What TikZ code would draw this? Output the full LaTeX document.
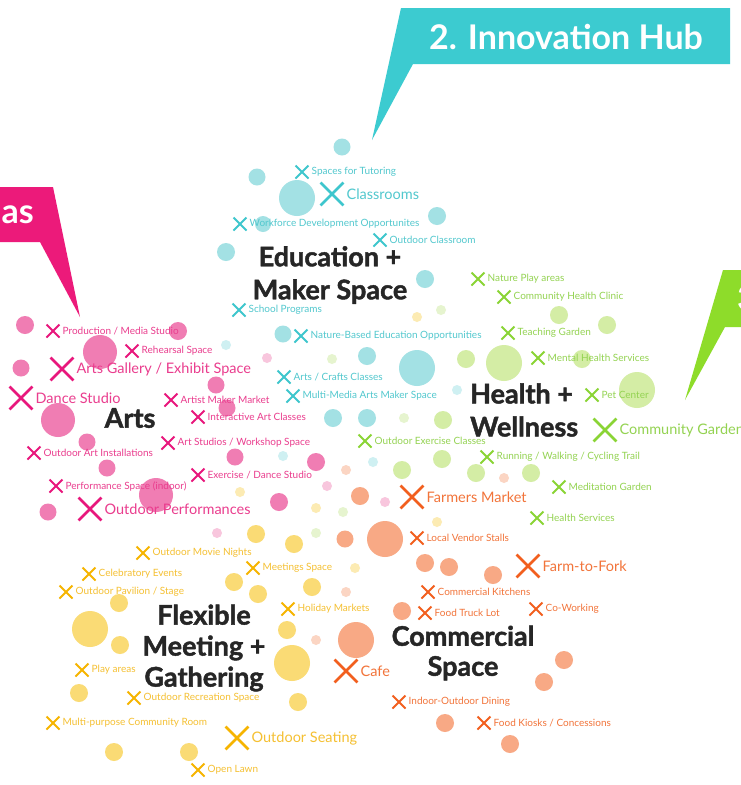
\documentclass[tikz,border=0pt]{standalone}
\usepackage{fontspec}
\setmainfont{Lato}
\newfontfamily\heavyfont{Lato}[BoldFeatures={FakeBold=1.6}]
\usetikzlibrary{positioning,shapes.misc}
\definecolor{ink}{HTML}{262626}
\definecolor{edu}{HTML}{3EC6CD}
\definecolor{eduT}{HTML}{52C8CE}
\definecolor{eduC}{HTML}{A3E1E4}
\definecolor{eduL}{HTML}{CFF0F2}
\definecolor{art}{HTML}{E8177C}
\definecolor{artT}{HTML}{EA3D8E}
\definecolor{artC}{HTML}{F07DB3}
\definecolor{artL}{HTML}{F8C6DD}
\definecolor{hw}{HTML}{8AD435}
\definecolor{hwT}{HTML}{94D352}
\definecolor{hwC}{HTML}{D4EDA5}
\definecolor{hwL}{HTML}{E6F4CF}
\definecolor{com}{HTML}{F25F1E}
\definecolor{comT}{HTML}{F2743A}
\definecolor{comC}{HTML}{F8A985}
\definecolor{comL}{HTML}{FBD5C3}
\definecolor{mtg}{HTML}{F6B400}
\definecolor{mtgT}{HTML}{F5C032}
\definecolor{mtgC}{HTML}{FADB75}
\definecolor{mtgL}{HTML}{FCEBB3}
\definecolor{hubB}{HTML}{3CCBD0}
\definecolor{artB}{HTML}{EC1A7A}
\definecolor{hwB}{HTML}{8EDC2A}
\tikzset{
  xs/.style={cross out, draw=#1, line width=2pt, minimum size=11pt, inner sep=0pt},
  xl/.style={cross out, draw=#1, line width=2.8pt, minimum size=20pt, inner sep=0pt},
  lab/.style={text=#1T, inner sep=0pt, font=\fontsize{10}{12}\selectfont},
  labl/.style={text=#1T, inner sep=0pt, font=\fontsize{14.5}{17}\selectfont},
  ttl/.style={text=ink, align=center, inner sep=0pt, font=\heavyfont\bfseries\fontsize{27}{33}\selectfont},
  callt/.style={text=white, inner sep=0pt, font=\bfseries\fontsize{34}{40}\selectfont},
}

\begin{document}
\begin{tikzpicture}[x=1pt, y=-1pt, node distance=3pt]
  \useasboundingbox (0,0) rectangle (741,785);
  \fill[white] (0,0) rectangle (741,785);
  % callouts
  \fill[hubB] (401,8) -- (730,8) -- (730,64) -- (413,64) -- (372,140) -- cycle;
  \node[callt] (hub) at (566,37) {2. Innovation Hub};
  \fill[artB] (-5,187) -- (53,187) -- (80,317) -- (40,242) -- (-5,242) -- cycle;
  \node[callt, anchor=east] (areas) at (34,215) {as};
  \fill[hwB] (723,270) -- (750,270) -- (750,327) -- (725,327) -- (685,400) -- cycle;
  \node[callt, anchor=west] (three) at (737,298) {3.};
  % circles
  \foreach \x/\y/\r in {342/147/8.5, 257/177/8.5, 297/198/18, 437/216/9, 263/224/8, 226/252/9,
    425/279/9, 283/334/8.5, 367/356/9, 417/368/18, 333/418/9, 367/418/9}
    \fill[eduC] (\x,\y) circle (\r);
  \foreach \x/\y in {226/345, 457/390, 283/456, 373/462}
    \fill[eduL] (\x,\y) circle (5);
  \foreach \x/\y/\r in {25/325/9, 178/331/9, 100/352/17, 21/368/8.5, 216/385/8.5, 227/408/8.5,
    58/420/17, 87/442/8.5, 235/457/8.5, 107/468/8.5, 316/462/9, 156/495/17, 48/512/8.5, 279/502/9}
    \fill[artC] (\x,\y) circle (\r);
  \foreach \x/\y in {267/358, 327/486, 385/502, 217/533}
    \fill[artL] (\x,\y) circle (5);
  \foreach \x/\y/\r in {559/315/9, 607/325/9, 466/359/9, 504/363/18, 582/359/9, 637/390/18,
    443/420/9, 442/459/9, 402/470/9, 476/473/9, 531/473/9}
    \fill[hwC] (\x,\y) circle (\r);
  \foreach \x/\y in {441/310, 332/359, 404/418, 343/512, 316/533}
    \fill[hwL] (\x,\y) circle (5);
  \foreach \x/\y/\r in {360/496/9, 385/539/18, 345/539/8.5, 425/563/9, 449/567/9, 493/575/9,
    402/611/9, 356/640/18, 564/660/9, 544/682/9, 445/723/9, 510/744/9}
    \fill[comC] (\x,\y) circle (\r);
  \foreach \x/\y in {346/470, 504/478, 346/592, 316/640}
    \fill[comL] (\x,\y) circle (5);
  \foreach \x/\y/\r in {256/534/9, 294/544/9, 234/582/9, 258/594/9, 312/587/9, 119/603/9,
    90/629/18, 120/645/9, 287/630/9, 292/663/18, 79/693/9, 298/702/9, 114/752/9, 189/752/9}
    \fill[mtgC] (\x,\y) circle (\r);
  \foreach \x/\y in {240/492, 437/522, 316/508, 355/568, 417/317}
    \fill[mtgL] (\x,\y) circle (5);
  % education + maker space
  \node[xs=edu] (tut) at (302,172) {}; \node[lab=edu, right=of tut] (tutL) {Spaces for Tutoring};
  \node[xl=edu] (cls) at (332,194) {}; \node[labl=edu, right=of cls] (clsL) {Classrooms};
  \node[xs=edu] (wf) at (240,224) {}; \node[lab=edu, right=of wf] (wfL) {Workforce Development Opportunites};
  \node[xs=edu] (ocl) at (380,240) {}; \node[lab=edu, right=of ocl] (oclL) {Outdoor Classroom};
  \node[xs=edu] (sch) at (239,310) {}; \node[lab=edu, right=of sch] (schL) {School Programs};
  \node[xs=edu] (nbe) at (301,336) {}; \node[lab=edu, right=of nbe] (nbeL) {Nature-Based Education Opportunities};
  \node[xs=edu] (crf) at (284,377) {}; \node[lab=edu, right=of crf] (crfL) {Arts / Crafts Classes};
  \node[xs=edu] (mma) at (293,396) {}; \node[lab=edu, right=of mma] (mmaL) {Multi-Media Arts Maker Space};
  % arts
  \node[xs=art] (prod) at (53,331) {}; \node[lab=art, right=of prod] (prodL) {Production / Media Studio};
  \node[xs=art] (reh) at (132,351) {}; \node[lab=art, right=of reh] (rehL) {Rehearsal Space};
  \node[xl=art] (gal) at (62,369) {}; \node[labl=art, right=of gal] (galL) {Arts Gallery / Exhibit Space};
  \node[xl=art] (dan) at (21,398) {}; \node[labl=art, right=of dan] (danL) {Dance Studio};
  \node[xs=art] (amm) at (171,400) {}; \node[lab=art, right=of amm] (ammL) {Artist Maker Market};
  \node[xs=art] (iac) at (198,417) {}; \node[lab=art, right=of iac] (iacL) {Interactive Art Classes};
  \node[xs=art] (stu) at (168,443) {}; \node[lab=art, right=of stu] (stuL) {Art Studios / Workshop Space};
  \node[xs=art] (oai) at (34,453) {}; \node[lab=art, right=of oai] (oaiL) {Outdoor Art Installations};
  \node[xs=art] (exd) at (198,475) {}; \node[lab=art, right=of exd] (exdL) {Exercise / Dance Studio};
  \node[xs=art] (perf) at (56,486) {}; \node[lab=art, right=of perf] (perfL) {Performance Space (indoor)};
  \node[xl=art] (opf) at (90,509) {}; \node[labl=art, right=of opf] (opfL) {Outdoor Performances};
  % health + wellness
  \node[xs=hw] (npa) at (478,279) {}; \node[lab=hw, right=of npa] (npaL) {Nature Play areas};
  \node[xs=hw] (chc) at (504,297) {}; \node[lab=hw, right=of chc] (chcL) {Community Health Clinic};
  \node[xs=hw] (tg) at (508,333) {}; \node[lab=hw, right=of tg] (tgL) {Teaching Garden};
  \node[xs=hw] (mhs) at (538,358) {}; \node[lab=hw, right=of mhs] (mhsL) {Mental Health Services};
  \node[xs=hw] (pet) at (592,395) {}; \node[lab=hw, right=of pet] (petL) {Pet Center};
  \node[xl=hw] (cg) at (605,430) {}; \node[labl=hw, right=of cg] (cgL) {Community Garden};
  \node[xs=hw] (oec) at (365,441) {}; \node[lab=hw, right=of oec] (oecL) {Outdoor Exercise Classes};
  \node[xs=hw] (run) at (487,457) {}; \node[lab=hw, right=of run] (runL) {Running / Walking / Cycling Trail};
  \node[xs=hw] (med) at (559,487) {}; \node[lab=hw, right=of med] (medL) {Meditation Garden};
  \node[xs=hw] (hs) at (537,518) {}; \node[lab=hw, right=of hs] (hsL) {Health Services};
  % commercial space
  \node[xl=com] (fm) at (412,497) {}; \node[labl=com, right=of fm] (fmL) {Farmers Market};
  \node[xs=com] (lvs) at (417,538) {}; \node[lab=com, right=of lvs] (lvsL) {Local Vendor Stalls};
  \node[xl=com] (ftf) at (528,566) {}; \node[labl=com, right=of ftf] (ftfL) {Farm-to-Fork};
  \node[xs=com] (ck) at (428,592) {}; \node[lab=com, right=of ck] (ckL) {Commercial Kitchens};
  \node[xs=com] (ftl) at (425,613) {}; \node[lab=com, right=of ftl] (ftlL) {Food Truck Lot};
  \node[xs=com] (cw) at (536,609) {}; \node[lab=com, right=of cw] (cwL) {Co-Working};
  \node[xl=com] (cafe) at (346,671) {}; \node[labl=com, right=of cafe] (cafeL) {Cafe};
  \node[xs=com] (iod) at (399,702) {}; \node[lab=com, right=of iod] (iodL) {Indoor-Outdoor Dining};
  \node[xs=com] (fk) at (484,723) {}; \node[lab=com, right=of fk] (fkL) {Food Kiosks / Concessions};
  % flexible meeting + gathering
  \node[xs=mtg] (omn) at (143,553) {}; \node[lab=mtg, right=of omn] (omnL) {Outdoor Movie Nights};
  \node[xs=mtg] (ms) at (253,568) {}; \node[lab=mtg, right=of ms] (msL) {Meetings Space};
  \node[xs=mtg] (ce) at (89,574) {}; \node[lab=mtg, right=of ce] (ceL) {Celebratory Events};
  \node[xs=mtg] (ops) at (66,592) {}; \node[lab=mtg, right=of ops] (opsL) {Outdoor Pavilion / Stage};
  \node[xs=mtg] (hm) at (288,609) {}; \node[lab=mtg, right=of hm] (hmL) {Holiday Markets};
  \node[xs=mtg] (pa) at (82,670) {}; \node[lab=mtg, right=of pa] (paL) {Play areas};
  \node[xs=mtg] (ors) at (134,698) {}; \node[lab=mtg, right=of ors] (orsL) {Outdoor Recreation Space};
  \node[xs=mtg] (mcr) at (53,723) {}; \node[lab=mtg, right=of mcr] (mcrL) {Multi-purpose Community Room};
  \node[xl=mtg] (os) at (237,738) {}; \node[labl=mtg, right=of os] (osL) {Outdoor Seating};
  \node[xs=mtg] (ol) at (198,770) {}; \node[lab=mtg, right=of ol] (olL) {Open Lawn};
  % titles
  \node[ttl] (eduH) at (330,275) {Education +\\Maker Space};
  \node[ttl] (artH) at (130,418) {Arts};
  \node[ttl, align=left, anchor=west] (hwH) at (470,410) {Health +\\Wellness};
  \node[ttl, font=\heavyfont\bfseries\fontsize{27}{31}\selectfont] (mtgH) at (204,648) {Flexible\\Meeting +\\Gathering};
  \node[ttl, font=\heavyfont\bfseries\fontsize{27}{30}\selectfont] (comH) at (463,653) {Commercial\\Space};
\end{tikzpicture}
\end{document}
